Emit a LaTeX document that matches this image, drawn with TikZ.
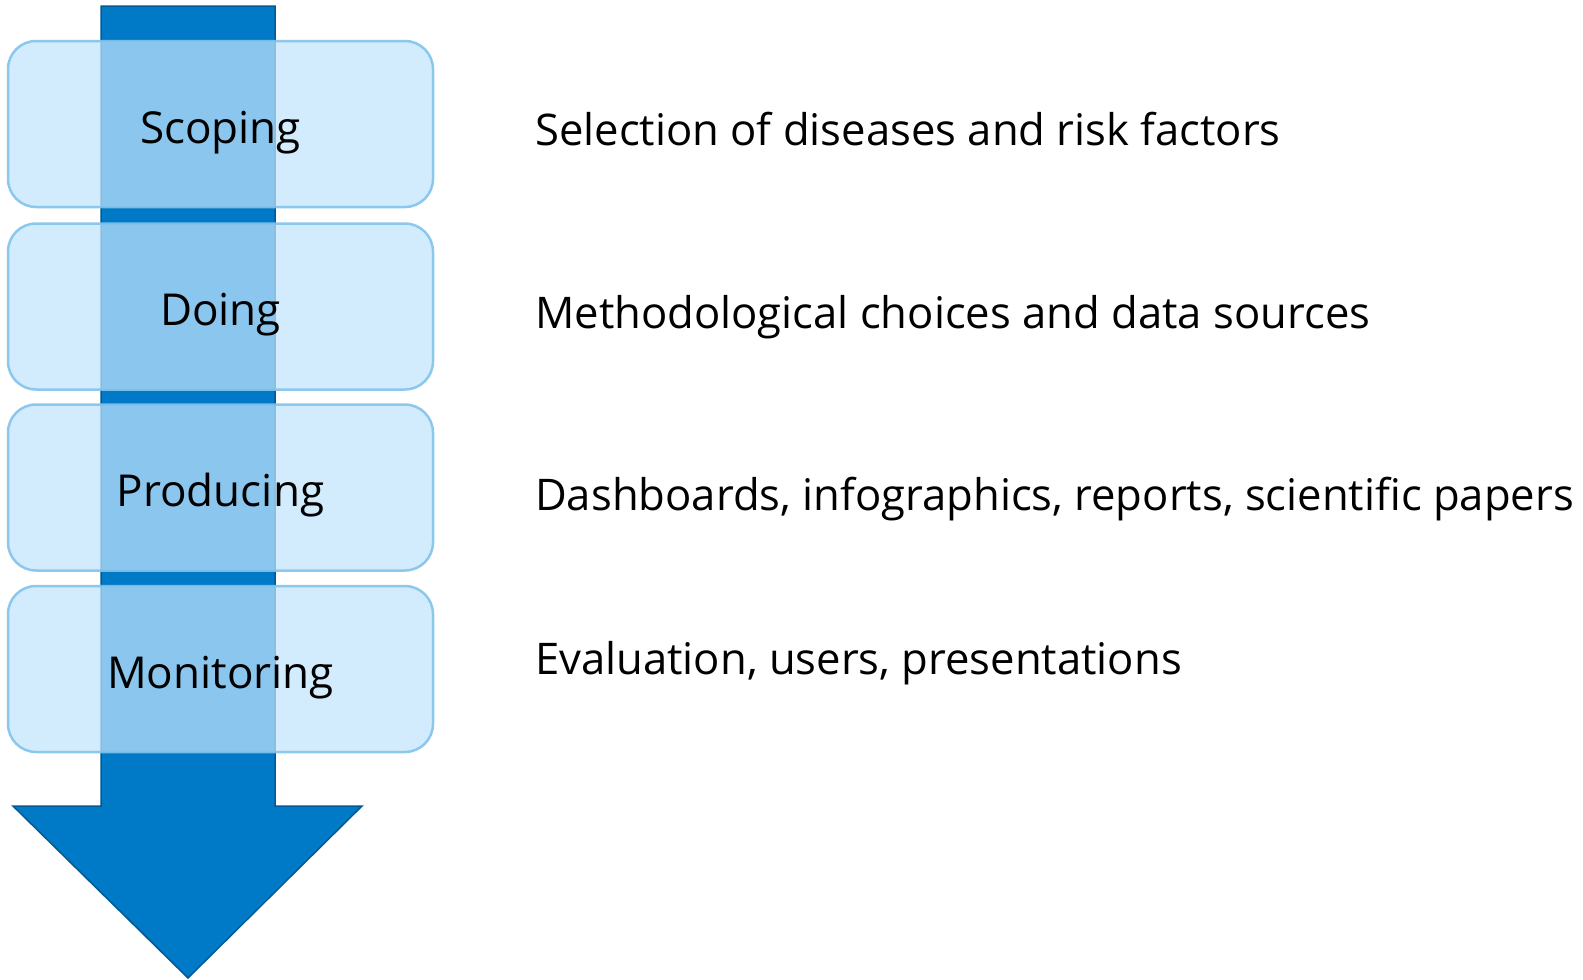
\documentclass[tikz,border=0pt]{standalone}
\usepackage{fontspec}
\setmainfont{Open Sans}
\usetikzlibrary{positioning}
\definecolor{flowblue}{RGB}{0,121,198}
\definecolor{flowedge}{RGB}{0,90,150}
\definecolor{stagefill}{RGB}{192,228,253}
\definecolor{stageedge}{RGB}{130,195,235}

\begin{document}
\begin{tikzpicture}[x=1pt,y=-1pt,
      stagebox/.style={draw=stageedge,line width=2.5pt,fill=stagefill,
         fill opacity=.72,draw opacity=.9,text opacity=1,rounded corners=28pt,
         minimum width=425pt,minimum height=166pt,inner sep=0pt,
         text height=38pt,text depth=0pt,font=\fontsize{44}{52}\selectfont},
      desc/.style={anchor=base west,inner sep=0pt,font=\fontsize{43.6}{52}\selectfont}]
   \useasboundingbox (0,0) rectangle (1583,980);
   % the long arrow behind the stages
   \draw[fill=flowblue,draw=flowedge,line width=1.5pt,line join=miter]
      (101,6) -- (275,6) -- (275,806) -- (362,806) -- (188,978)
      -- (13,806) -- (101,806) -- cycle;
   % stages
   \node[stagebox] (scoping)    at (220.5,124)   {Scoping};
   \node[stagebox] (doing)      at (220.5,306.5) {Doing};
   \node[stagebox] (producing)  at (220.5,487.5) {Producing};
   \node[stagebox] (monitoring) at (220.5,669)   {Monitoring};
   % descriptions
   \node[desc] (scopingtext)    at (535,145) {Selection of diseases and risk factors};
   \node[desc] (doingtext)      at (535,328) {Methodological choices and data sources};
   \node[desc] (producingtext)  at (535,510) {Dashboards, infographics, reports, scientific papers};
   \node[desc] (monitoringtext) at (535,674) {Evaluation, users, presentations};
\end{tikzpicture}
\end{document}
